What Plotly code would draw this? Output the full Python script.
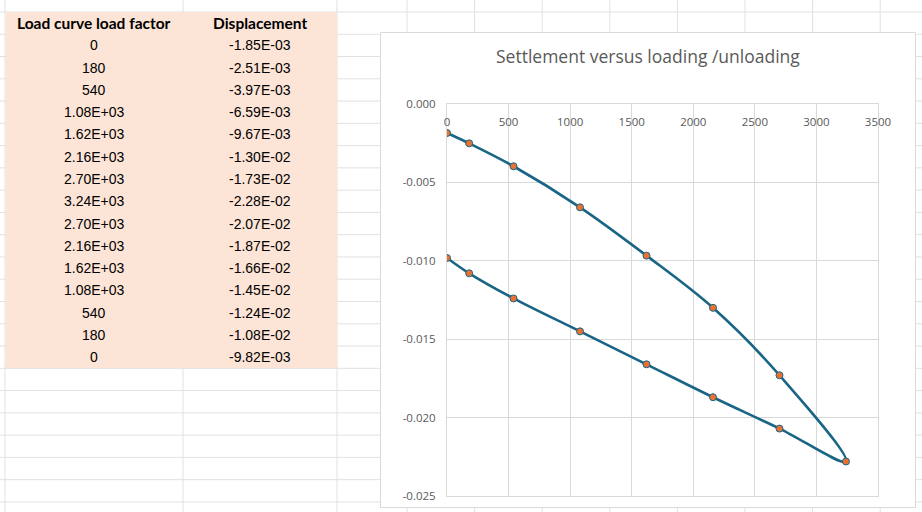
import plotly.graph_objects as go

# ---- data ----
load_factor = [0, 180, 540, 1080, 1620, 2160, 2700, 3240, 2700, 2160, 1620, 1080, 540, 180, 0]
displacement = [-1.85e-03, -2.51e-03, -3.97e-03, -6.59e-03, -9.67e-03, -1.30e-02, -1.73e-02,
                -2.28e-02, -2.07e-02, -1.87e-02, -1.66e-02, -1.45e-02, -1.24e-02, -1.08e-02, -9.82e-03]
headers = ["Load curve load factor", "Displacement"]
title = "Settlement versus loading /unloading"
x_ticks = [0, 500, 1000, 1500, 2000, 2500, 3000, 3500]
y_ticks = [0.0, -0.005, -0.010, -0.015, -0.020, -0.025]

W, H = 922, 512
def px(x): return x / W
def py(y): return 1 - y / H

def fmt_load(v):
    return f"{v:.2E}" if abs(v) >= 1000 else f"{v:g}"

fig = go.Figure()
fig.add_trace(go.Scatter(
    x=load_factor, y=displacement, mode="lines+markers",
    line=dict(color="#196585", width=2.6, shape="spline", smoothing=1.0),
    marker=dict(color="#E97132", size=7, line=dict(color="#196585", width=1)),
    showlegend=False, hoverinfo="x+y"))

shapes = []
grid_col = "#e1e1e1"
row0, rowh = 12, 22.27
# spreadsheet horizontal grid lines
for k in range(-1, 24):
    y = row0 + rowh * k
    if 0 <= y <= H:
        shapes.append(dict(type="line", xref="paper", yref="paper", x0=0, x1=1,
                           y0=py(y), y1=py(y), line=dict(color=grid_col, width=1), layer="below"))
# spreadsheet vertical grid lines
for x in [5, 183, 337, 407, 474.6, 542.2, 609.8, 677.4, 745, 812.6, 880.2]:
    shapes.append(dict(type="line", xref="paper", yref="paper", x0=px(x), x1=px(x),
                       y0=0, y1=1, line=dict(color=grid_col, width=1), layer="below"))
# pink table fill
shapes.append(dict(type="rect", xref="paper", yref="paper", x0=px(5.5), x1=px(337),
                   y0=py(368), y1=py(12), fillcolor="#FCE4D6", line=dict(width=0), layer="below"))
# chart box
shapes.append(dict(type="rect", xref="paper", yref="paper", x0=px(380.5), x1=px(915.5),
                   y0=py(507.5), y1=py(32.5), fillcolor="white",
                   line=dict(color="#d9d9d9", width=1), layer="below"))

annotations = []
hdr_font = dict(family="Lato", size=15.5, color="#000000")
num_font = dict(family="Liberation Sans", size=14, color="#000000")
col_centers = [94, 260]
for c, h in zip(col_centers, headers):
    annotations.append(dict(x=px(c), y=py(row0 + rowh * 0.5), xref="paper", yref="paper",
                            text=f"<b>{h}</b>", showarrow=False, font=hdr_font,
                            xanchor="center", yanchor="middle"))
for i, (lf, d) in enumerate(zip(load_factor, displacement)):
    yc = py(row0 + rowh * (i + 1.5))
    annotations.append(dict(x=px(col_centers[0]), y=yc, xref="paper", yref="paper",
                            text=fmt_load(lf), showarrow=False, font=num_font,
                            xanchor="center", yanchor="middle"))
    annotations.append(dict(x=px(col_centers[1]), y=yc, xref="paper", yref="paper",
                            text=f"{d:.2E}", showarrow=False, font=num_font,
                            xanchor="center", yanchor="middle"))
# title
annotations.append(dict(x=px(648), y=py(56), xref="paper", yref="paper", text=title,
                        showarrow=False, font=dict(family="Open Sans", size=17.5, color="#595959"),
                        xanchor="center", yanchor="middle"))

tick_font = dict(family="Open Sans", size=11.5, color="#595959")
fig.update_layout(
    width=W, height=H, margin=dict(l=0, r=0, t=0, b=0, autoexpand=False),
    paper_bgcolor="white", plot_bgcolor="rgba(0,0,0,0)",
    shapes=shapes, annotations=annotations,
    xaxis=dict(domain=[px(447), px(878)], range=[0, 3500], tickvals=x_ticks,
               ticktext=[str(v) for v in x_ticks], side="top", ticklabelposition="inside",
               ticklabeloverflow="allow", ticklabelstandoff=13, automargin=False,
               showgrid=True, gridcolor="#d9d9d9", gridwidth=1, zeroline=False,
               showline=True, mirror=True, linecolor="#d9d9d9", linewidth=1,
               tickfont=tick_font, ticks=""),
    yaxis=dict(domain=[py(496), py(104)], range=[-0.025, 0], tickvals=y_ticks,
               ticktext=[f"{v:.3f}" for v in y_ticks], ticklabeloverflow="allow",
               automargin=False,
               showgrid=True, gridcolor="#d9d9d9", gridwidth=1, zeroline=False,
               showline=True, mirror=True, linecolor="#d9d9d9", linewidth=1,
               tickfont=tick_font, ticks="", ticklabelstandoff=8),
)
fig.write_html("out.html")
